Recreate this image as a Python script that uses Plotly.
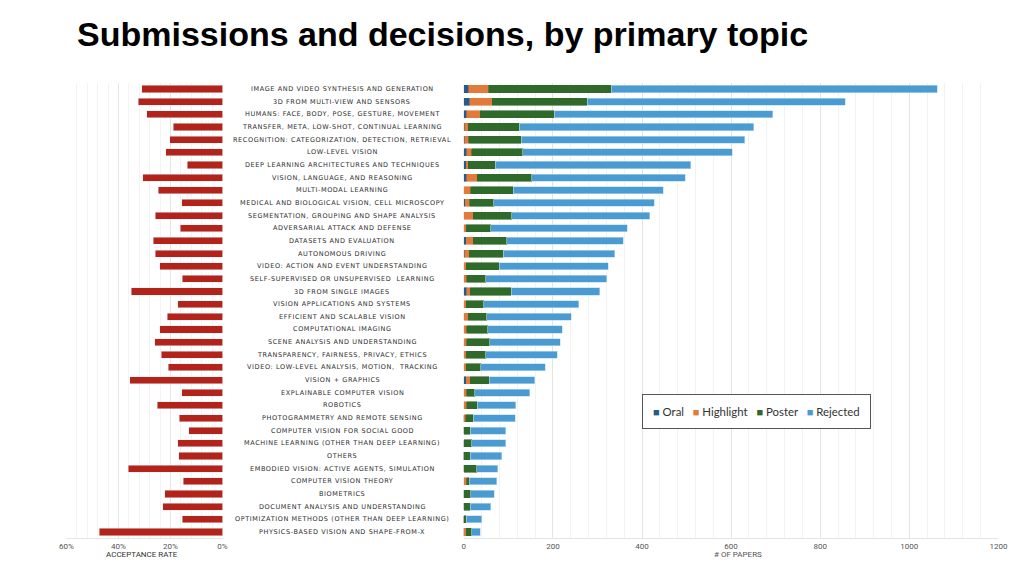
import plotly.graph_objects as go

topics = [
    "IMAGE AND VIDEO SYNTHESIS AND GENERATION",
    "3D FROM MULTI-VIEW AND SENSORS",
    "HUMANS: FACE, BODY, POSE, GESTURE, MOVEMENT",
    "TRANSFER, META, LOW-SHOT, CONTINUAL LEARNING",
    "RECOGNITION: CATEGORIZATION, DETECTION, RETRIEVAL",
    "LOW-LEVEL VISION",
    "DEEP LEARNING ARCHITECTURES AND TECHNIQUES",
    "VISION, LANGUAGE, AND REASONING",
    "MULTI-MODAL LEARNING",
    "MEDICAL AND BIOLOGICAL VISION, CELL MICROSCOPY",
    "SEGMENTATION, GROUPING AND SHAPE ANALYSIS",
    "ADVERSARIAL ATTACK AND DEFENSE",
    "DATASETS AND EVALUATION",
    "AUTONOMOUS DRIVING",
    "VIDEO: ACTION AND EVENT UNDERSTANDING",
    "SELF-SUPERVISED OR UNSUPERVISED  LEARNING",
    "3D FROM SINGLE IMAGES",
    "VISION APPLICATIONS AND SYSTEMS",
    "EFFICIENT AND SCALABLE VISION",
    "COMPUTATIONAL IMAGING",
    "SCENE ANALYSIS AND UNDERSTANDING",
    "TRANSPARENCY, FAIRNESS, PRIVACY, ETHICS",
    "VIDEO: LOW-LEVEL ANALYSIS, MOTION,  TRACKING",
    "VISION + GRAPHICS",
    "EXPLAINABLE COMPUTER VISION",
    "ROBOTICS",
    "PHOTOGRAMMETRY AND REMOTE SENSING",
    "COMPUTER VISION FOR SOCIAL GOOD",
    "MACHINE LEARNING (OTHER THAN DEEP LEARNING)",
    "OTHERS",
    "EMBODIED VISION: ACTIVE AGENTS, SIMULATION",
    "COMPUTER VISION THEORY",
    "BIOMETRICS",
    "DOCUMENT ANALYSIS AND UNDERSTANDING",
    "OPTIMIZATION METHODS (OTHER THAN DEEP LEARNING)",
    "PHYSICS-BASED VISION AND SHAPE-FROM-X",
]

# acceptance rate, % (left panel)
acceptance = [31, 32.4, 29.2, 19, 20.3, 21.8, 13.6, 30.6, 24.7, 15.6, 25.9, 16.2,
              26.7, 25.9, 24.1, 15.4, 35, 17.2, 21.3, 24.1, 26, 23.5, 20.9, 35.6,
              15.6, 25.1, 16.7, 12.9, 17.3, 16.8, 36.2, 15.1, 22.2, 22.9, 15.5, 47.4]

# number of papers by decision (right panel)
oral = [11, 13, 7, 2, 2, 7, 5, 7, 1, 3, 1, 1, 6, 2, 1, 1, 7, 1,
        1, 1, 1, 1, 1, 6, 1, 1, 0, 0, 0, 0, 0, 1, 0, 0, 0, 0]
highlight = [45, 51, 30, 8, 9, 11, 5, 23, 15, 10, 20, 4, 15, 10, 5, 6, 8, 4,
             9, 6, 6, 4, 5, 9, 6, 6, 4, 1, 1, 0, 1, 6, 1, 1, 0, 6]
poster = [275, 213, 166, 114, 118, 114, 61, 123, 95, 54, 87, 56, 75, 76, 73, 42, 92, 40,
          42, 47, 51, 44, 32, 42, 17, 23, 17, 13, 17, 15, 28, 5, 15, 14, 6, 12]
rejected = [732, 579, 490, 527, 502, 471, 438, 344, 337, 361, 309, 306, 262, 251, 245, 272, 198, 213,
            189, 167, 159, 161, 145, 102, 124, 87, 94, 80, 76, 70, 47, 62, 52, 46, 34, 19]

series = ["Oral", "Highlight", "Poster", "Rejected"]
colors = ["#245b87", "#e27a3c", "#2f6a2a", "#4b9bd3"]

W, H = 1008, 557
OFF = 8


def px(x):
    # screen x -> paper (calibrated against the rendered page)
    return (x - 15.7) / 0.983 / W


def py(y):
    return (H - (y - OFF)) / H


tick_font = dict(family="Roboto", size=8, color="#555555")

fig = go.Figure()

fig.add_trace(go.Bar(
    y=topics, x=[a / 100 for a in acceptance], orientation="h",
    marker_color="#b3231a", showlegend=False, xaxis="x", yaxis="y",
))

for name, vals, col in zip(series, [oral, highlight, poster, rejected], colors):
    fig.add_trace(go.Bar(
        y=topics, x=vals, orientation="h", name=name, showlegend=False,
        marker=dict(color=col, line=dict(width=0.6, color="#b9dcf2" if name == "Rejected" else col)),
        xaxis="x2", yaxis="y2",
    ))

# topic labels between the two panels
for t in topics:
    fig.add_annotation(x=px(342.5), xref="paper", y=t, yref="y2",
                       text="<span style='letter-spacing:0.6px'>%s</span>" % t,
                       showarrow=False, xanchor="center",
                       font=dict(family="DejaVu Sans", size=6.5, color="#2e2e2e"))

fig.add_annotation(x=px(143), y=py(561), xref="paper", yref="paper", xanchor="center",
                   text="ACCEPTANCE RATE", showarrow=False,
                   font=dict(family="Roboto", size=8, color="#333333"))
fig.add_annotation(x=px(738), y=py(561), xref="paper", yref="paper", xanchor="center",
                   text="# OF PAPERS", showarrow=False,
                   font=dict(family="Roboto", size=8, color="#555555"))

# legend box
legend_text = "&nbsp;&nbsp;&nbsp;".join(
    "<span style='color:%s;font-size:11px'>■</span> %s" % (c, s) for s, c in zip(series, colors))
fig.add_annotation(x=px(756.5), y=py(411.5), xref="paper", yref="paper",
                   text=legend_text, showarrow=False, xanchor="center", yanchor="middle",
                   bordercolor="#555555", borderwidth=1, borderpad=10, bgcolor="white",
                   font=dict(family="Lato", size=11.4, color="#333333"))

ydom = [py(538.3), py(82.7)]
yax = dict(domain=ydom, autorange="reversed", showticklabels=False,
           showgrid=False, zeroline=False, type="category")

fig.update_layout(
    width=W, height=H,
    margin=dict(l=0, r=0, t=0, b=0),
    paper_bgcolor="white", plot_bgcolor="white",
    barmode="stack", bargap=0.44,
    title=dict(text="<b>Submissions and decisions, by primary topic</b>",
               x=(77 - OFF) / W, xanchor="left", y=py(34), yanchor="middle",
               font=dict(family="Liberation Sans", size=34, color="black")),
    xaxis=dict(domain=[px(67), px(223)], range=[0.6, 0], tickvals=[0.6, 0.4, 0.2, 0],
               tickformat=".0%", tickfont=tick_font, showgrid=True, gridcolor="#e6e6e6",
               minor=dict(dtick=0.04, showgrid=True, gridcolor="#f3f3f3"),
               zeroline=False, showline=True, linecolor="#e6e6e6", ticks=""),
    xaxis2=dict(domain=[px(464), min(px(998), 1)], range=[0, 1200], dtick=200,
                tickfont=tick_font, showgrid=True, gridcolor="#e3e3e3",
                minor=dict(dtick=40, showgrid=True, gridcolor="#f2f2f2"),
                zeroline=False, showline=True, linecolor="#e3e3e3", ticks=""),
    yaxis=dict(anchor="x", **yax),
    yaxis2=dict(anchor="x2", **yax),
)

fig.write_html("out.html")
